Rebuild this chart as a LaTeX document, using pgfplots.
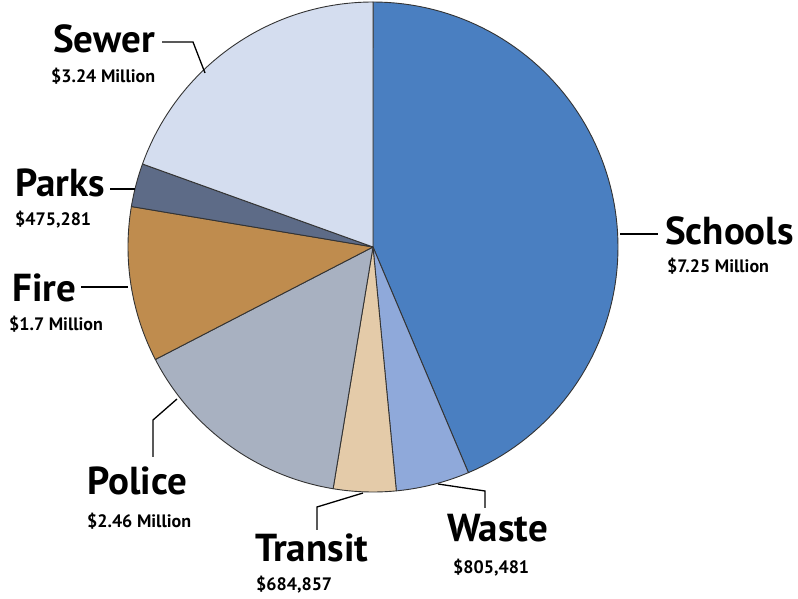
\documentclass[border=0pt]{standalone}
\usepackage{pgfplots}
\pgfplotsset{compat=1.18}
\usepackage{fontspec}
\setmainfont{PT Sans}
\definecolor{cSchools}{HTML}{4A7FC1}
\definecolor{cWaste}{HTML}{8FA9DA}
\definecolor{cTransit}{HTML}{E4CBA9}
\definecolor{cPolice}{HTML}{A8B1C1}
\definecolor{cFire}{HTML}{BF8C4E}
\definecolor{cParks}{HTML}{5D6B87}
\definecolor{cSewer}{HTML}{D4DDEF}
\definecolor{edge}{HTML}{333333}
\newcommand\biglab[1]{{\fontsize{39}{42}\selectfont\bfseries #1}}
\newcommand\val[1]{{\fontsize{18}{20}\selectfont\bfseries #1}}
\begin{document}
\begin{tikzpicture}
% values (million $), clockwise from top
\def\vSchools{7.25}
\def\vWaste{0.805481}
\def\vTransit{0.684857}
\def\vPolice{2.46}
\def\vFire{1.7}
\def\vParks{0.475281}
\def\vSewer{3.24}
\pgfmathsetmacro\T{\vSchools+\vWaste+\vTransit+\vPolice+\vFire+\vParks+\vSewer}
\pgfmathsetmacro\eA{90}
\pgfmathsetmacro\eB{\eA-360*\vSchools/\T}
\pgfmathsetmacro\eC{\eB-360*\vWaste/\T}
\pgfmathsetmacro\eD{\eC-360*\vTransit/\T}
\pgfmathsetmacro\eE{\eD-360*\vPolice/\T}
\pgfmathsetmacro\eF{\eE-360*\vFire/\T}
\pgfmathsetmacro\eG{\eF-360*\vParks/\T}
\pgfmathsetmacro\eH{-270}
\begin{axis}[width=798pt,height=599pt,scale only axis,hide axis,
  xmin=0,xmax=798,ymin=0,ymax=599,clip=false]
\addplot[draw=none] coordinates {(0,0) (798,599)};
\pgfplotsset{slice/.style={draw=edge,line width=0.9pt,line join=round,samples=90}}
\addplot[slice,fill=cSchools,domain=\eB:\eA] ({373+245*cos(x)},{352+245*sin(x)}) -- (axis cs:373,352) -- cycle;
\addplot[slice,fill=cWaste,domain=\eC:\eB] ({373+245*cos(x)},{352+245*sin(x)}) -- (axis cs:373,352) -- cycle;
\addplot[slice,fill=cTransit,domain=\eD:\eC] ({373+245*cos(x)},{352+245*sin(x)}) -- (axis cs:373,352) -- cycle;
\addplot[slice,fill=cPolice,domain=\eE:\eD] ({373+245*cos(x)},{352+245*sin(x)}) -- (axis cs:373,352) -- cycle;
\addplot[slice,fill=cFire,domain=\eF:\eE] ({373+245*cos(x)},{352+245*sin(x)}) -- (axis cs:373,352) -- cycle;
\addplot[slice,fill=cParks,domain=\eG:\eF] ({373+245*cos(x)},{352+245*sin(x)}) -- (axis cs:373,352) -- cycle;
\addplot[slice,fill=cSewer,domain=\eH:\eG] ({373+245*cos(x)},{352+245*sin(x)}) -- (axis cs:373,352) -- cycle;
% leader lines
\pgfplotsset{leader/.style={black,line width=1.3pt,mark=none}}
\addplot[leader] coordinates {(162,557) (193,557) (205,526)};
\addplot[leader] coordinates {(110,410) (135,410)};
\addplot[leader] coordinates {(81,312) (128,312)};
\addplot[leader] coordinates {(153,142) (153,179) (177,200)};
\addplot[leader] coordinates {(317,69) (317,92) (363,106)};
\addplot[leader] coordinates {(485,91) (485,108) (438,115)};
\addplot[leader] coordinates {(620,365) (658,365)};
% labels
\node[anchor=base west,inner sep=0pt] at (axis cs:53,546) {\biglab{Sewer}};
\node[anchor=base west,inner sep=0pt] at (axis cs:51,516) {\val{\$3.24 Million}};
\node[anchor=base west,inner sep=0pt] at (axis cs:15,402) {\biglab{Parks}};
\node[anchor=base west,inner sep=0pt] at (axis cs:15,373) {\val{\$475,281}};
\node[anchor=base west,inner sep=0pt] at (axis cs:12,297) {\biglab{Fire}};
\node[anchor=base west,inner sep=0pt] at (axis cs:9,268) {\val{\$1.7 Million}};
\node[anchor=base west,inner sep=0pt] at (axis cs:87,104) {\biglab{Police}};
\node[anchor=base west,inner sep=0pt] at (axis cs:87,71) {\val{\$2.46 Million}};
\node[anchor=base west,inner sep=0pt] at (axis cs:255,37) {\biglab{Transit}};
\node[anchor=base west,inner sep=0pt] at (axis cs:256,8) {\val{\$684,857}};
\node[anchor=base west,inner sep=0pt] at (axis cs:447,57) {\biglab{Waste}};
\node[anchor=base west,inner sep=0pt] at (axis cs:453,25) {\val{\$805,481}};
\node[anchor=base west,inner sep=0pt] at (axis cs:665,354) {\biglab{Schools}};
\node[anchor=base west,inner sep=0pt] at (axis cs:667,326) {\val{\$7.25 Million}};
\end{axis}
\end{tikzpicture}
\end{document}
